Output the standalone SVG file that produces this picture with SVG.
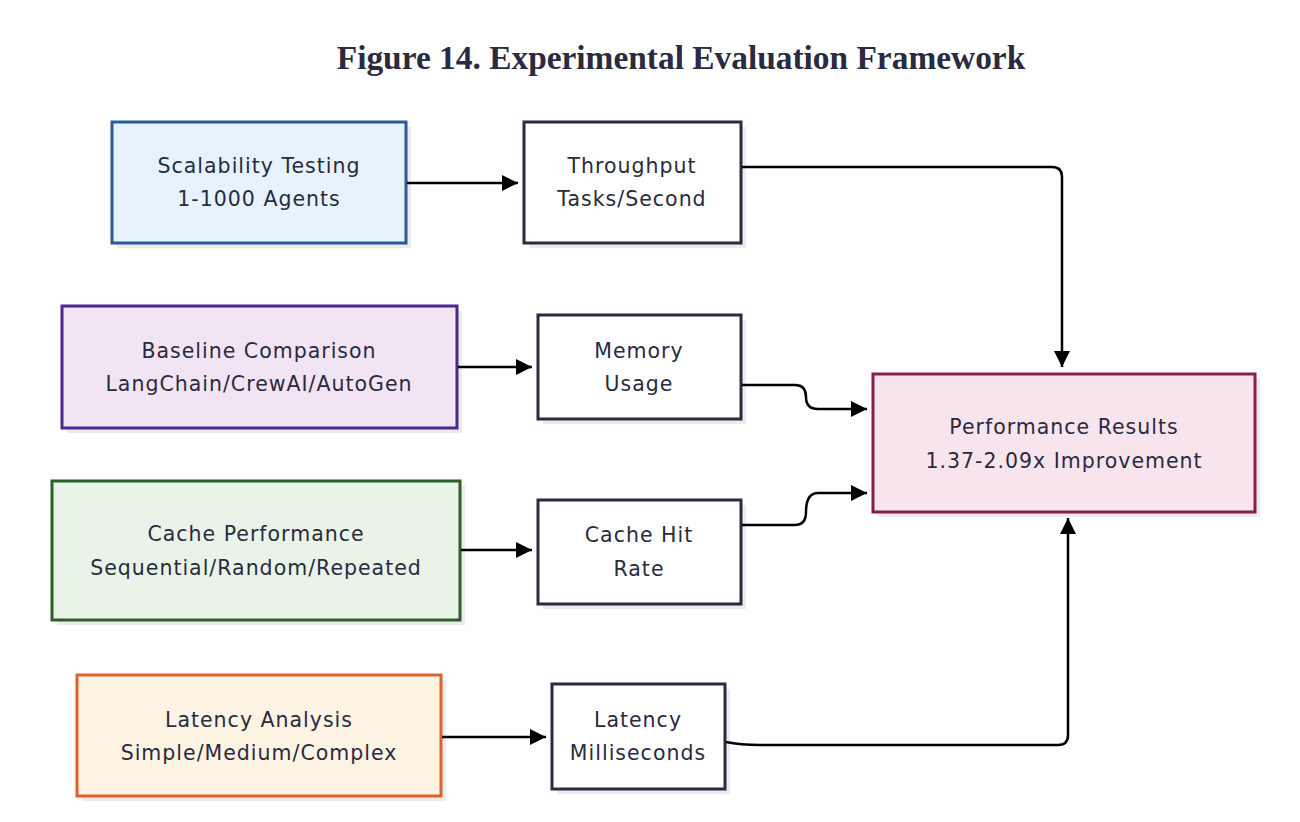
<svg xmlns="http://www.w3.org/2000/svg" width="1300" height="822" viewBox="0 0 1300 822">
<style>
.t{font-family:"DejaVu Sans","Noto Sans",sans-serif;font-size:20.5px;letter-spacing:1px;fill:#2a2a40;text-anchor:middle}
.title{font-family:"Liberation Serif","Times New Roman",serif;font-size:33.4px;font-weight:bold;fill:#2a2a40;text-anchor:middle}
.sh{fill:#ececec}
.box{stroke-width:3}
.c{fill:none;stroke:#000;stroke-width:2.5}
</style>
<defs>
<marker id="ah" viewBox="0 0 10 10" refX="10" refY="5" markerWidth="6.4" markerHeight="6.4" markerUnits="strokeWidth" orient="auto">
<path d="M0,0 L10,5 L0,10 Z" fill="#000"/>
</marker>
</defs>
<rect width="1300" height="822" fill="#fff"/>
<text class="title" x="681" y="69">Figure 14. Experimental Evaluation Framework</text>

<g id="scalability">
<rect class="sh" x="117" y="127" width="294" height="121"/>
<rect class="box" x="112" y="122" width="294" height="121" fill="#e6f3fc" stroke="#2a5a98"/>
<text class="t" x="259" y="173">Scalability Testing</text>
<text class="t" x="259" y="206">1-1000 Agents</text>
</g>

<g id="throughput">
<rect class="sh" x="529" y="127" width="217" height="121"/>
<rect class="box" x="524" y="122" width="217" height="121" fill="#fff" stroke="#2a2a40"/>
<text class="t" x="632" y="173">Throughput</text>
<text class="t" x="632" y="206">Tasks/Second</text>
</g>

<g id="baseline">
<rect class="sh" x="67" y="311" width="395" height="122"/>
<rect class="box" x="62" y="306" width="395" height="122" fill="#f1e4f3" stroke="#4a2a8c"/>
<text class="t" x="259" y="358">Baseline Comparison</text>
<text class="t" x="259" y="391">LangChain/CrewAI/AutoGen</text>
</g>

<g id="memory">
<rect class="sh" x="543" y="320" width="203" height="104"/>
<rect class="box" x="538" y="315" width="203" height="104" fill="#fff" stroke="#2a2a40"/>
<text class="t" x="639" y="358">Memory</text>
<text class="t" x="639" y="391">Usage</text>
</g>

<g id="cache">
<rect class="sh" x="57" y="486" width="408" height="139"/>
<rect class="box" x="52" y="481" width="408" height="139" fill="#e9f4e8" stroke="#2f5e2a"/>
<text class="t" x="256" y="541">Cache Performance</text>
<text class="t" x="256" y="575">Sequential/Random/Repeated</text>
</g>

<g id="cachehit">
<rect class="sh" x="543" y="505" width="203" height="104"/>
<rect class="box" x="538" y="500" width="203" height="104" fill="#fff" stroke="#2a2a40"/>
<text class="t" x="639" y="542">Cache Hit</text>
<text class="t" x="639" y="576">Rate</text>
</g>

<g id="latency">
<rect class="sh" x="82" y="680" width="364" height="121"/>
<rect class="box" x="77" y="675" width="364" height="121" fill="#fdf3e3" stroke="#e0622a"/>
<text class="t" x="259" y="727">Latency Analysis</text>
<text class="t" x="259" y="760">Simple/Medium/Complex</text>
</g>

<g id="latencyms">
<rect class="sh" x="557" y="689" width="173" height="105"/>
<rect class="box" x="552" y="684" width="173" height="105" fill="#fff" stroke="#2a2a40"/>
<text class="t" x="638" y="727">Latency</text>
<text class="t" x="638" y="760">Milliseconds</text>
</g>

<g id="results">
<rect class="sh" x="878" y="379" width="382" height="138"/>
<rect class="box" x="873" y="374" width="382" height="138" fill="#f8e4ec" stroke="#8a1d50"/>
<text class="t" x="1064" y="434">Performance Results</text>
<text class="t" x="1064" y="468">1.37-2.09x Improvement</text>
</g>

<g id="connectors">
<path class="c" d="M407,183 H518" marker-end="url(#ah)"/>
<path class="c" d="M742,167 H1052 Q1062,167 1062,177 V367" marker-end="url(#ah)"/>
<path class="c" d="M458,367 H532" marker-end="url(#ah)"/>
<path class="c" d="M742,385 H795 Q806,385 806,397 Q806,409 818,409 H867" marker-end="url(#ah)"/>
<path class="c" d="M461,550 H532" marker-end="url(#ah)"/>
<path class="c" d="M742,525 H795 Q806,525 806,512 Q806,493 818,493 H867" marker-end="url(#ah)"/>
<path class="c" d="M442,737 H546" marker-end="url(#ah)"/>
<path class="c" d="M726,742 Q740,745 760,745 H1058 Q1068,745 1068,735 V518" marker-end="url(#ah)"/>
</g>
</svg>
